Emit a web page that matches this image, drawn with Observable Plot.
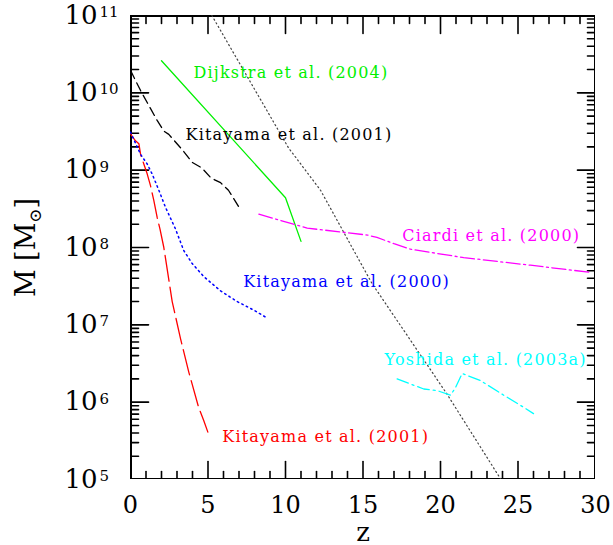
<!DOCTYPE html>
<html><head><meta charset="utf-8">
<script src="https://cdn.jsdelivr.net/npm/d3@7"></script>
<script src="https://cdn.jsdelivr.net/npm/@observablehq/plot@0.6"></script>
<style>body{margin:0;background:#fff}</style>
</head><body><div id="chart"></div>
<script>
// Tick values
const xMajor = [0, 5, 10, 15, 20, 25, 30];
const xMinor = [1,2,3,4,6,7,8,9,11,12,13,14,16,17,18,19,21,22,23,24,26,27,28,29];
const yExponents = [5, 6, 7, 8, 9, 10, 11];
const yMajor = yExponents.map(e => 10 ** e);
const yMinor = yMajor.slice(0, -1).flatMap(d => [2,3,4,5,6,7,8,9].map(m => m * d));

// Series (z, M in solar masses)
const dijkstraZ = [2, 10, 11];
const dijkstraM = [2.6e10, 4.4e8, 1.2e8];

const kitaBlackZ = [0, 0.65, 1.72, 2.15, 2.47, 3.38, 3.98, 4.6, 5.2, 5.81, 6.32, 6.97];
const kitaBlackM = [1.95e10, 1.07e10, 4.4e9, 3.2e9, 2.9e9, 1.8e9, 1.26e9, 1.07e9, 7.9e8, 6.9e8, 5.5e8, 3.4e8];

const kitaRedZ = [0, 0.32, 0.54, 0.65, 0.86, 1.08, 1.29, 1.5, 1.72, 1.9, 2.15, 2.69, 3.23, 3.76, 4.4, 4.73, 4.99];
const kitaRedM = [2.95e9, 2.4e9, 2.2e9, 1.6e9, 1.2e9, 8.9e8, 6.3e8, 4.1e8, 2.45e8, 1.74e8, 1.0e8, 2.0e7, 6.6e6, 2.45e6, 8.5e5, 5.75e5, 4.1e5];

const kitaBlueZ = [0, 0.65, 1.08, 1.4, 1.83, 2.26, 2.9, 3.44, 3.98, 4.73, 5.81, 6.88, 7.95, 8.71];
const kitaBlueM = [3.1e9, 1.6e9, 1.2e9, 8.9e8, 5.5e8, 3.3e8, 1.74e8, 9.1e7, 6.2e7, 4.2e7, 2.75e7, 2.0e7, 1.55e7, 1.26e7];

const ciardiZ = [8.28, 11.4, 15.27, 15.9, 17.0, 18.06, 21.5, 25.8, 29.57];
const ciardiM = [2.7e8, 1.78e8, 1.45e8, 1.35e8, 1.12e8, 9.5e7, 7.4e7, 5.9e7, 4.8e7];

const yoshidaZ = [17.2, 18.92, 19.79, 20.65, 20.97, 21.4, 22.58, 24.08, 25.16, 26.0];
const yoshidaM = [2.0e6, 1.48e6, 1.41e6, 1.23e6, 1.55e6, 2.35e6, 1.9e6, 1.23e6, 9.1e5, 7.1e5];

const dottedZ = [5.25, 10.19, 12.26, 15.59, 20.4, 23.9];
const dottedM = [1e11, 1.95e9, 5.5e8, 3.4e7, 1.29e6, 1e5];

// Curve labels
const labelText = ["Dijkstra et al. (2004)", "Kitayama et al. (2001)", "Ciardi et al. (2000)", "Kitayama et al. (2000)", "Yoshida et al. (2003a)", "Kitayama et al. (2001)"];
const labelZ = [4.06, 3.55, 17.53, 7.27, 16.39, 5.92];
const labelM = [1.83e10, 2.89e9, 1.43e8, 3.56e7, 3.56e6, 3.52e5];

const GREEN = "#00f000", BLACK = "#000", RED = "#ff0000", BLUE = "#0000ff", MAGENTA = "#ff00ff", CYAN = "#00ffff";
const labelColor = [GREEN, BLACK, MAGENTA, BLUE, CYAN, RED];

const toRows = (Z, M) => Z.map((z, i) => ({z, M: M[i]}));
const series = [
  {rows: toRows(dottedZ, dottedM), stroke: "#444", dash: "1.2,3", w: 1.2},
  {rows: toRows(dijkstraZ, dijkstraM), stroke: GREEN, dash: null, w: 1.3},
  {rows: toRows(kitaBlackZ, kitaBlackM), stroke: BLACK, dash: "9,5", w: 1.3},
  {rows: toRows(kitaRedZ, kitaRedM), stroke: RED, dash: "26,6", w: 1.3},
  {rows: toRows(kitaBlueZ, kitaBlueM), stroke: BLUE, dash: "1.5,3.5", w: 1.5},
  {rows: toRows(ciardiZ, ciardiM), stroke: MAGENTA, dash: "14,3.5,2,3.5", w: 1.3},
  {rows: toRows(yoshidaZ, yoshidaM), stroke: CYAN, dash: "12,4,2,4", w: 1.3}
];
const labels = labelText.map((t, i) => ({t, z: labelZ[i], M: labelM[i], c: labelColor[i]}));

const W = 613, H = 545, ML = 130, MR = 18, MT = 15, MB = 66;
const PW = W - ML - MR, PH = H - MT - MB;
const X0 = 0, X1 = 30, Y0 = 1e5, Y1 = 1e11;
const decades = Math.log10(Y1 / Y0);
// tick lengths converted from pixels to the scales' units
const yLen = px => 10 ** (px / PH * decades);
const xLen = px => px / PW * (X1 - X0);

// tick segments (two points each, grouped by id)
const tickRows = [];
const addX = (arr, len) => arr.forEach(t => {
  tickRows.push({id: "b" + t, z: t, M: Y0}, {id: "b" + t, z: t, M: Y0 * yLen(len)});
  tickRows.push({id: "t" + t, z: t, M: Y1}, {id: "t" + t, z: t, M: Y1 / yLen(len)});
});
const addY = (arr, len) => arr.forEach(t => {
  tickRows.push({id: "l" + t, z: X0, M: t}, {id: "l" + t, z: X0 + xLen(len), M: t});
  tickRows.push({id: "r" + t, z: X1, M: t}, {id: "r" + t, z: X1 - xLen(len), M: t});
});
addX(xMajor, 18); addX(xMinor, 8); addY(yMajor, 18); addY(yMinor, 8);
const frameRows = [{z: X0, M: Y0}, {z: X1, M: Y0}, {z: X1, M: Y1}, {z: X0, M: Y1}, {z: X0, M: Y0}];

const plot = Plot.plot({
  width: W, height: H,
  marginLeft: ML, marginRight: MR, marginTop: MT, marginBottom: MB,
  x: {domain: [X0, X1], axis: null},
  y: {type: "log", domain: [Y0, Y1], axis: null},
  style: {fontFamily: "DejaVu Serif", background: "white", color: "black"},
  marks: [
    Plot.line(tickRows, {x: "z", y: "M", z: "id", stroke: "#000", strokeWidth: 1.6, clip: true}),
    Plot.line(frameRows, {x: "z", y: "M", stroke: "#000", strokeWidth: 3, strokeLinejoin: "miter", clip: true}),
    ...series.map(s => Plot.line(s.rows, {x: "z", y: "M", stroke: s.stroke, strokeWidth: s.w, strokeDasharray: s.dash, clip: true})),
    Plot.text(labels, {x: "z", y: "M", text: "t", fill: "c", textAnchor: "start", fontSize: 16}),
    Plot.text(xMajor, {x: d => d, y: () => Y0, dy: 26, text: d => String(d), fontSize: 24}),
    Plot.text(yMajor, {x: () => X0, y: d => d, dx: -33, textAnchor: "end", text: () => "10", fontSize: 26}),
    Plot.text(yExponents, {x: () => X0, y: d => 10 ** d, dx: -31, dy: -9, textAnchor: "start", lineAnchor: "top", text: d => String(d), fontSize: 15}),
    Plot.text(["z"], {x: () => (X0 + X1) / 2, y: () => Y0, dy: 53, text: d => d, fontSize: 26}),
    Plot.text(["M [M⊙]"], {x: () => X0, y: () => Math.sqrt(Y0 * Y1), dx: -104, rotate: -90, text: d => d, fontSize: 27})
  ]
});

document.getElementById("chart").appendChild(plot);
const svg = d3.select(plot);
svg.selectAll("text").filter(function() { return labelText.includes(this.textContent); })
  .style("letter-spacing", "1.2px");
const yl = svg.selectAll("text").filter(function() { return this.textContent === "M [M⊙]"; });
yl.text("");
yl.append("tspan").text("M [M");
yl.append("tspan").attr("dy", "6").attr("font-size", "17").text("⊙");
yl.append("tspan").attr("dy", "-6").text("]");
</script>
</body></html>
